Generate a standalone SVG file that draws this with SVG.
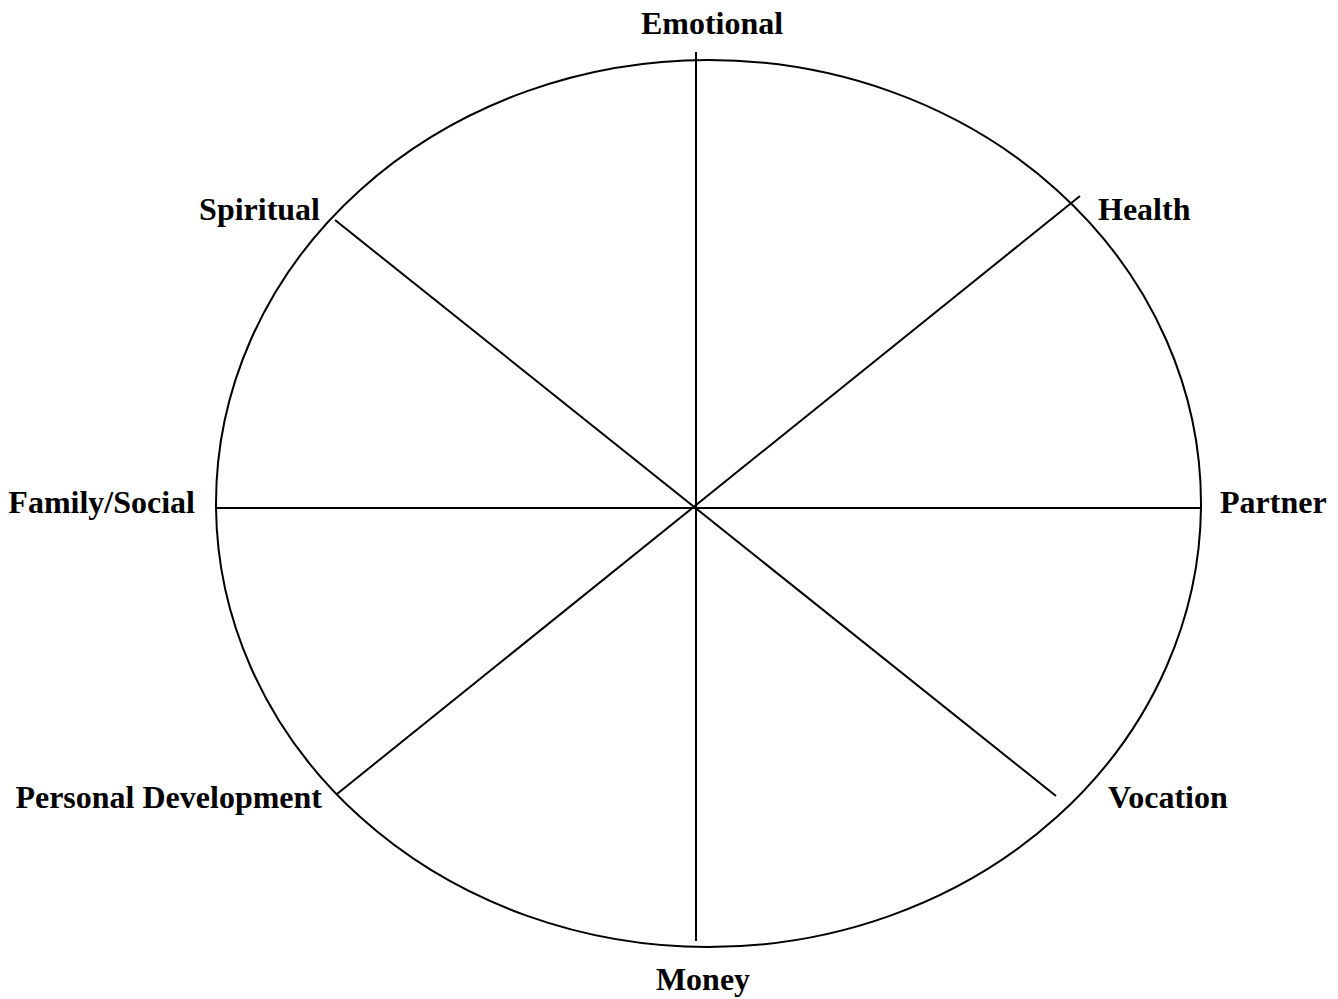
<svg xmlns="http://www.w3.org/2000/svg" width="1338" height="999" viewBox="0 0 1338 999">
<style>
.l{stroke:#000;stroke-width:2;fill:none}
text{font-family:"Liberation Serif","Times New Roman",serif;font-weight:bold;font-size:32px;fill:#000}
</style>
<rect width="1338" height="999" fill="#fff"/>
<g id="wheel">
<ellipse class="l" cx="708.5" cy="503.5" rx="492.5" ry="443.5"/>
</g>
<g id="connectors">
<line class="l" x1="696" y1="52" x2="696" y2="941"/>
<line class="l" x1="216" y1="508" x2="1201" y2="508"/>
<line class="l" x1="335" y1="220" x2="1056" y2="796"/>
<line class="l" x1="337" y1="794" x2="1080" y2="196"/>
</g>
<g id="emotional"><text x="712" y="34" text-anchor="middle">Emotional</text></g>
<g id="spiritual"><text x="320" y="220" text-anchor="end">Spiritual</text></g>
<g id="health"><text x="1098" y="220">Health</text></g>
<g id="family"><text x="195" y="513" text-anchor="end">Family/Social</text></g>
<g id="partner"><text x="1220" y="513">Partner</text></g>
<g id="personal"><text x="322" y="808" text-anchor="end">Personal Development</text></g>
<g id="vocation"><text x="1108" y="808">Vocation</text></g>
<g id="money"><text x="703" y="990" text-anchor="middle">Money</text></g>
</svg>
